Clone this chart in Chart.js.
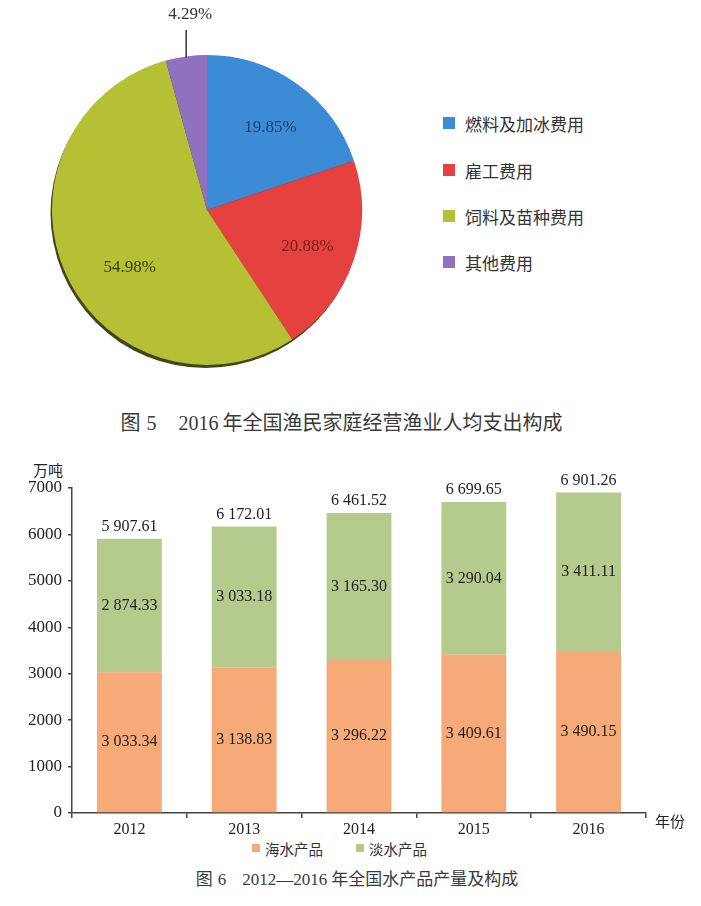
<!DOCTYPE html>
<html>
<head>
<meta charset="utf-8">
<script src="https://cdn.jsdelivr.net/npm/chart.js@4.4.1/dist/chart.umd.min.js"></script>
<style>
  body { margin: 0; background: #fff; width: 701px; height: 906px; position: relative; overflow: hidden;
         font-family: "Noto Sans CJK SC", sans-serif; color: #333; }
  .abs { position: absolute; white-space: pre; }
  #pieWrap { position: absolute; left: 0; top: 0; width: 420px; height: 400px; }
  #barWrap { position: absolute; left: 0; top: 455px; width: 701px; height: 383px; }
  .lg { position: absolute; display: flex; align-items: center; white-space: nowrap; }
  .lg i { display: inline-block; }
  .num { font-family: "Liberation Serif", "DejaVu Serif", serif; }
  .gap { display: inline-block; }
</style>
</head>
<body>
<div id="pieWrap"><canvas id="pieChart" width="420" height="400"></canvas></div>
<div id="pieLegend"></div>
<div class="abs" style="left:0;width:683px;top:409px;text-align:center;font-size:20px;line-height:26px;color:#3a3a3a;">图<span class="gap" style="width:6px"></span><span class="num">5</span><span class="gap" style="width:22px"></span><span class="num">2016</span><span class="gap" style="width:4px"></span>年全国渔民家庭经营渔业人均支出构成</div>

<div class="abs" style="left:33px;top:461px;font-size:15px;line-height:18px;color:#222;">万吨</div>
<div id="barWrap"><canvas id="barChart" width="701" height="383"></canvas></div>
<div class="abs" style="left:655px;top:812px;font-size:15px;line-height:18px;color:#222;">年份</div>
<div id="barLegend"></div>
<div class="abs" style="left:0;width:714px;top:867px;text-align:center;font-size:17px;line-height:22px;color:#3a3a3a;">图<span class="gap" style="width:5px"></span><span class="num">6</span><span class="gap" style="width:16px"></span><span class="num">2012—2016</span><span class="gap" style="width:4px"></span>年全国水产品产量及构成</div>

<script>
  // Figure 5: per-capita fishery spending shares (%)
  const pieLabels = ['燃料及加冰费用', '雇工费用', '饲料及苗种费用', '其他费用'];
  const pieValues = [19.85, 20.88, 54.98, 4.29];
  const pieColors = ['#3b8bd6', '#e5413f', '#b6c035', '#8f71bf'];

  // Figure 6: aquatic output 2012-2016 (万吨)
  const years = ['2012', '2013', '2014', '2015', '2016'];
  const seaValues = [3033.34, 3138.83, 3296.22, 3409.61, 3490.15];
  const freshValues = [2874.33, 3033.18, 3165.30, 3290.04, 3411.11];
  const totalValues = [5907.61, 6172.01, 6461.52, 6699.65, 6901.26];
  const seriesNames = ['海水产品', '淡水产品'];
  const barColors = ['#f6aa77', '#b4cb8d'];
  const yTicks = [0, 1000, 2000, 3000, 4000, 5000, 6000, 7000];

  const serif = '"Liberation Serif", "DejaVu Serif", serif';

  function fmt(v) {
    const parts = v.toFixed(2).split('.');
    return parts[0].replace(/\B(?=(\d{3})+(?!\d))/g, ' ') + '.' + parts[1];
  }

  // Pie legend (HTML)
  (function () {
    const box = document.getElementById('pieLegend');
    const ys = [123, 170, 216, 262];
    pieLabels.forEach((name, i) => {
      const d = document.createElement('div');
      d.className = 'lg';
      d.style.left = '443px';
      d.style.top = (ys[i] - 12) + 'px';
      d.style.height = '24px';
      d.style.fontSize = '17px';
      d.style.color = '#333';
      d.innerHTML = '<i style="width:12px;height:12px;margin-right:10px;background:' + pieColors[i] + '"></i>' + name;
      box.appendChild(d);
    });
  })();

  // Bar legend (HTML)
  (function () {
    const box = document.getElementById('barLegend');
    const xs = [252, 356];
    seriesNames.forEach((name, i) => {
      const d = document.createElement('div');
      d.className = 'lg';
      d.style.left = xs[i] + 'px';
      d.style.top = '838px';
      d.style.height = '20px';
      d.style.fontSize = '14.5px';
      d.style.color = '#333';
      d.innerHTML = '<i style="width:8px;height:8px;margin-right:5px;background:' + barColors[i] + '"></i>' + name;
      box.appendChild(d);
    });
  })();

  // Pie chart
  (function () {
    const canvas = document.getElementById('pieChart');
    if (!canvas || typeof Chart === 'undefined') return;

    const labelColors = ['#22406d', '#761f1f', '#3a3c12'];
    const placement = [{ r: 0.67, da: 2 }, { r: 0.69, da: 1 }, { r: 0.62, da: -12 }];

    const pieExtras = {
      id: 'pieExtras',
      beforeDatasetsDraw(chart) {
        const arc = chart.getDatasetMeta(0).data[0];
        if (!arc) return;
        const { x, y, outerRadius } = arc.getProps(['x', 'y', 'outerRadius'], true);
        const ctx = chart.ctx;
        ctx.save();
        ctx.fillStyle = '#44451f';
        ctx.beginPath();
        ctx.arc(x - 1.5, y + 3, outerRadius, 0, Math.PI * 2);
        ctx.fill();
        ctx.restore();
      },
      afterDatasetsDraw(chart) {
        const ctx = chart.ctx;
        const meta = chart.getDatasetMeta(0);
        ctx.save();
        ctx.font = '17px ' + serif;
        ctx.textAlign = 'center';
        ctx.textBaseline = 'middle';
        meta.data.forEach((arc, i) => {
          const p = arc.getProps(['x', 'y', 'startAngle', 'endAngle', 'outerRadius'], true);
          const mid = (p.startAngle + p.endAngle) / 2;
          const text = pieValues[i].toFixed(2) + '%';
          if (i < 3) {
            const a = mid + placement[i].da * Math.PI / 180;
            const r = p.outerRadius * placement[i].r;
            ctx.fillStyle = labelColors[i];
            ctx.fillText(text, p.x + Math.cos(a) * r, p.y + Math.sin(a) * r);
          } else {
            const ex = p.x + Math.cos(mid) * p.outerRadius;
            const ey = p.y + Math.sin(mid) * p.outerRadius;
            ctx.strokeStyle = '#333';
            ctx.lineWidth = 1.5;
            ctx.beginPath();
            ctx.moveTo(ex, ey + 1);
            ctx.lineTo(ex, 30);
            ctx.stroke();
            ctx.fillStyle = '#333';
            ctx.fillText(text, ex + 4, 15);
          }
        });
        ctx.restore();
      }
    };

    new Chart(canvas.getContext('2d'), {
      type: 'pie',
      data: {
        labels: pieLabels,
        datasets: [{
          data: pieValues,
          backgroundColor: pieColors,
          borderWidth: 0
        }]
      },
      options: {
        responsive: false,
        animation: false,
        layout: { padding: { left: 52, top: 55, right: 58, bottom: 35 } },
        plugins: { legend: { display: false }, tooltip: { enabled: false } }
      },
      plugins: [pieExtras]
    });
  })();

  // Stacked bar chart
  (function () {
    const canvas = document.getElementById('barChart');
    if (!canvas || typeof Chart === 'undefined') return;

    const barLabels = {
      id: 'barLabels',
      afterDatasetsDraw(chart) {
        const ctx = chart.ctx;
        ctx.save();
        ctx.font = '16px ' + serif;
        ctx.fillStyle = '#222';
        ctx.textAlign = 'center';
        ctx.textBaseline = 'middle';
        chart.data.datasets.forEach((ds, di) => {
          chart.getDatasetMeta(di).data.forEach((bar, i) => {
            const p = bar.getProps(['x', 'y', 'base'], true);
            ctx.fillText(fmt(ds.data[i]), p.x, (p.y + p.base) / 2);
          });
        });
        const top = chart.getDatasetMeta(1).data;
        top.forEach((bar, i) => {
          const p = bar.getProps(['x', 'y'], true);
          ctx.fillText(fmt(totalValues[i]), p.x, p.y - 12);
        });
        ctx.restore();
      }
    };

    const axisColor = '#444';

    new Chart(canvas.getContext('2d'), {
      type: 'bar',
      data: {
        labels: years,
        datasets: [
          { label: seriesNames[0], data: seaValues, backgroundColor: barColors[0], borderWidth: 0 },
          { label: seriesNames[1], data: freshValues, backgroundColor: barColors[1], borderWidth: 0 }
        ]
      },
      options: {
        responsive: false,
        animation: false,
        categoryPercentage: 1,
        barPercentage: 0.565,
        layout: { padding: { left: 0, right: 55, top: 33, bottom: 0 } },
        plugins: { legend: { display: false }, tooltip: { enabled: false } },
        scales: {
          x: {
            stacked: true,
            border: { color: axisColor, width: 1.5 },
            grid: { display: true, drawOnChartArea: false, offset: true, tickLength: 5, color: axisColor, lineWidth: 1.5 },
            ticks: { color: '#222', font: { family: serif, size: 16 }, padding: 2 },
            afterFit(s) { s.height = 25; }
          },
          y: {
            stacked: true,
            min: 0,
            max: 7000,
            afterBuildTicks(s) { s.ticks = yTicks.map(v => ({ value: v })); },
            border: { color: axisColor, width: 1.5 },
            grid: { display: true, drawOnChartArea: false, tickLength: 4, color: axisColor, lineWidth: 1.5 },
            ticks: { color: '#222', font: { family: serif, size: 17 }, padding: 6, callback: (v) => String(v) },
            afterFit(s) { s.width = 72; }
          }
        }
      },
      plugins: [barLabels]
    });
  })();
</script>
</body>
</html>
